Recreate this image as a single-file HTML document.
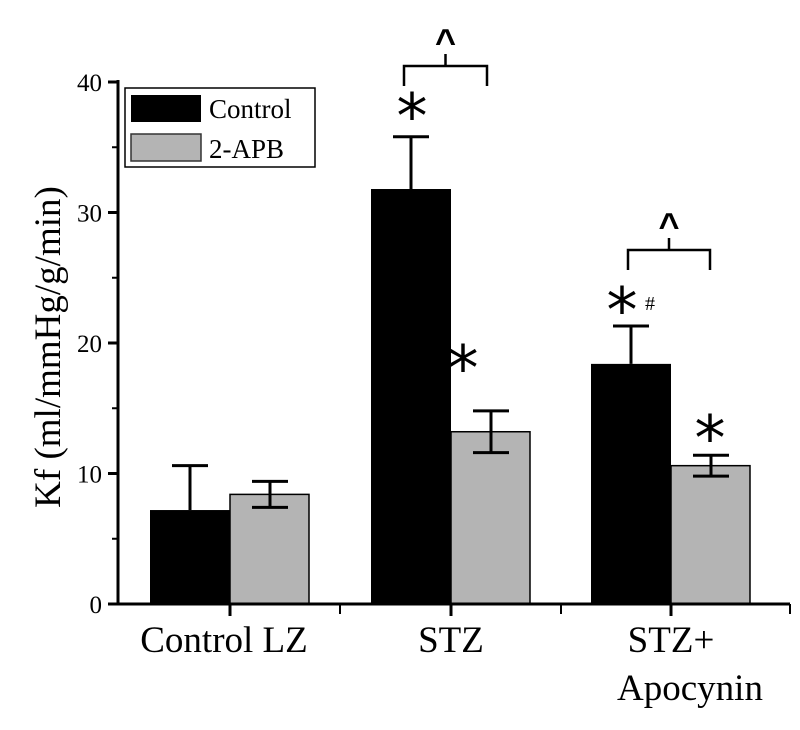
<!DOCTYPE html>
<html><head><meta charset="utf-8"><style>
body{margin:0;background:#fff;}
svg{font-family:"Liberation Serif",serif;}
</style></head><body>
<svg width="800" height="725" viewBox="0 0 800 725" xmlns="http://www.w3.org/2000/svg">
<g id="plot"></g>
</svg>
<script>
const categories=["Control LZ","STZ","STZ+"];
const controlVals=[7.2,31.8,18.4];
const controlErr=[3.4,4.0,2.9];
const apbVals=[8.4,13.2,10.6];
const apbErr=[1.0,1.6,0.8];
const yTicks=[0,10,20,30,40];
const NS="http://www.w3.org/2000/svg";
const g=document.getElementById('plot');
const x0=118,x1=790,y0=604,yTop=82;
function ys(v){return y0-(v/40)*(y0-yTop);}
const centers=[230,451,671],bw=80;
function el(t,a,txt){const e=document.createElementNS(NS,t);for(const k in a)e.setAttribute(k,a[k]);if(txt!==undefined)e.textContent=txt;g.appendChild(e);return e;}
function errbar(cx,v,e,both,name){
 const top=ys(v+e),bot=both?ys(v-e):ys(v);
 const l=el('path',{d:`M${cx},${top}V${bot}M${cx-18},${top}H${cx+18}`+(both?`M${cx-18},${bot}H${cx+18}`:''),stroke:'#000','stroke-width':3,fill:'none'});
 
 
}
categories.forEach((c,i)=>{
 const cx=centers[i];
 const b1=el('rect',{x:cx-bw,y:ys(controlVals[i]),width:bw,height:y0-ys(controlVals[i]),fill:'#000'});
 
 
 const b2=el('rect',{x:cx,y:ys(apbVals[i]),width:bw-1,height:y0-ys(apbVals[i]),fill:'#b4b4b4',stroke:'#000','stroke-width':1.5});
 
 
 errbar(cx-bw/2,controlVals[i],controlErr[i],false,'error-control-'+i);
 errbar(cx+bw/2,apbVals[i],apbErr[i],true,'error-2apb-'+i);
});
let a=el('path',{d:`M${x0},${yTop-2}V${y0}H${x1}`,stroke:'#000','stroke-width':3,fill:'none'});


yTicks.forEach(t=>{
 el('line',{x1:x0-10,x2:x0,y1:ys(t),y2:ys(t),stroke:'#000','stroke-width':3});
 const tx=el('text',{x:x0-16,y:ys(t)+9,'font-size':25,'text-anchor':'end'},t);
 
 
 if(t<40)el('line',{x1:x0-6,x2:x0,y1:ys(t+5),y2:ys(t+5),stroke:'#000','stroke-width':2});
});
[340,561,790].forEach(x=>el('line',{x1:x,x2:x,y1:y0,y2:y0+10,stroke:'#000','stroke-width':2}));
centers.forEach(x=>el('line',{x1:x,x2:x,y1:y0,y2:y0+12,stroke:'#000','stroke-width':3}));
const lbls=[["Control LZ",224,652],["STZ",451,652],["STZ+",671,652],["Apocynin",690,700]];
lbls.forEach(l=>{const t=el('text',{x:l[1],y:l[2],'font-size':37,'text-anchor':'middle'},l[0]);
 
 });
const yt=el('text',{x:0,y:0,'font-size':37,'text-anchor':'middle',transform:'translate(60,347) rotate(-90)'},'Kf (ml/mmHg/g/min)');


const lg=el('rect',{x:125,y:88,width:190,height:79,fill:'#fff',stroke:'#000','stroke-width':1.5});


el('rect',{x:131,y:95,width:70,height:27,fill:'#000'});
el('rect',{x:131,y:134,width:70,height:27,fill:'#b4b4b4',stroke:'#333','stroke-width':1.5});
const l1=el('text',{x:209,y:118,'font-size':27},'Control');


const l2=el('text',{x:209,y:158,'font-size':27},'2-APB');


[[412,108],[463,360],[622,302],[710,430]].forEach(p=>{const t=el('text',{x:p[0],y:p[1]+30,'font-size':62,'text-anchor':'middle','font-family':'DejaVu Sans'},'*');
 
 });
const h=el('text',{x:650,y:310,'font-size':20,'text-anchor':'middle'},'#');


[[404,487,66,86],[628,710,250,270]].forEach(b=>{
 const m=(b[0]+b[1])/2;
 const p=el('path',{d:`M${b[0]},${b[3]}V${b[2]}H${b[1]}V${b[3]}M${m},${b[2]}V${b[2]-12}`,stroke:'#000','stroke-width':2.5,fill:'none'});
 
 
 const c=el('text',{x:m,y:b[2]-12,'font-size':36,'font-weight':'bold','text-anchor':'middle','font-family':'Liberation Sans'},'^');
 
 
});
</script>
</body></html>
